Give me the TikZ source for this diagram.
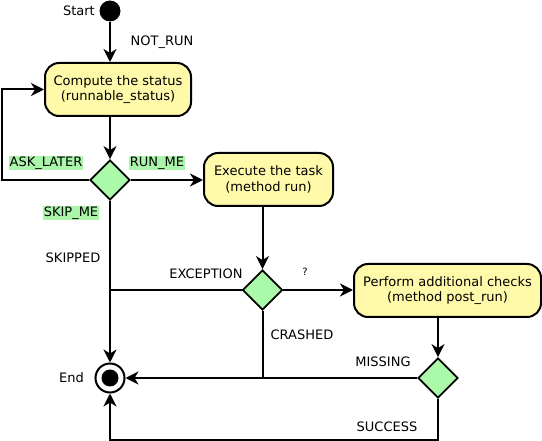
\documentclass[tikz,border=0pt]{standalone}
\usepackage{fontspec}
\setmainfont{DejaVu Sans}
\usetikzlibrary{shapes.geometric,arrows.meta}
\definecolor{boxyellow}{HTML}{FFFAAA}
\definecolor{dgreen}{HTML}{AAFAAA}
\definecolor{lgreen}{HTML}{AAF5AA}
\begin{document}
\begin{tikzpicture}[x=1pt,y=-1pt,
  every node/.style={font=\fontsize{13}{15.5}\selectfont},
  act/.style={draw, line width=2pt, fill=boxyellow, rounded corners=14pt, align=center, inner sep=0pt, minimum height=53pt},
  dec/.style={draw, line width=1.8pt, fill=dgreen, diamond, inner sep=0pt, minimum size=40pt},
  conn/.style={line width=2pt},
  arr/.style={conn, -{Stealth[length=13pt,width=13pt,inset=4pt]}},
  glabel/.style={fill=lgreen, inner sep=1pt},
  plabel/.style={inner sep=1pt}
]
\useasboundingbox (0,0) rectangle (542,441);
\node[circle, fill=black, minimum size=21pt, inner sep=0pt] (start) at (110,11) {};
\node[anchor=east, inner sep=1pt] (startlbl) at (96,11) {Start};
\node[act, minimum width=146pt] (compute) at (118,89.5) {Compute the status\\(runnable\_status)};
\node[dec] (d1) at (110,180) {};
\node[act, minimum width=129pt] (exec) at (268.5,179.5) {Execute the task\\(method run)};
\node[dec] (d2) at (262.5,290) {};
\node[act, minimum width=187pt] (perf) at (447.5,290.5) {Perform additional checks\\(method post\_run)};
\node[dec] (d3) at (438,378) {};
\node[circle, draw, line width=2pt, minimum size=29pt, inner sep=0pt] (end) at (110,378) {};
\fill (end.center) circle (8.5);
\node[anchor=east, inner sep=1pt] (endlbl) at (85,378) {End};

\coordinate (loopc) at (2,90);
\draw[arr] (start) -- (start |- compute.north);
\draw[arr] (d1 |- compute.south) -- (d1.north);
\draw[arr] (d1.west) -| (loopc) |- (compute.west);
\draw[arr] (d1.east) -- (d1.east -| exec.west);
\draw[arr] (d1.south) -- (end.north);
\draw[arr] (d2.north |- exec.south) -- (d2.north);
\draw[conn] (d2.west) -- (d2.west -| d1.south);
\draw[arr] (d2.east) -- (d2.east -| perf.west);
\draw[arr] (d3.north |- perf.south) -- (d3.north);
\draw[arr] (d2.south) |- (end.east);
\draw[conn] (d3.west) -- (d3.west -| d2.south);
\coordinate (succc) at (438,440);
\draw[arr] (d3.south) -- (succc) -| (end.south);

\node[plabel] (lnotrun) at (162,42) {NOT\_RUN};
\node[glabel] (lask) at (46,163) {ASK\_LATER};
\node[glabel] (lrun) at (157,163) {RUN\_ME};
\node[glabel] (lskip) at (71,213) {SKIP\_ME};
\node[plabel] (lskipped) at (73,258) {SKIPPED};
\node[plabel] (lexc) at (206,274) {EXCEPTION};
\node[plabel, font=\fontsize{10}{12}\selectfont] (lq) at (305,272) {?};
\node[plabel] (lcrash) at (302,335) {CRASHED};
\node[plabel] (lmiss) at (383,362) {MISSING};
\node[plabel] (lsucc) at (387,427) {SUCCESS};
\end{tikzpicture}
\end{document}
